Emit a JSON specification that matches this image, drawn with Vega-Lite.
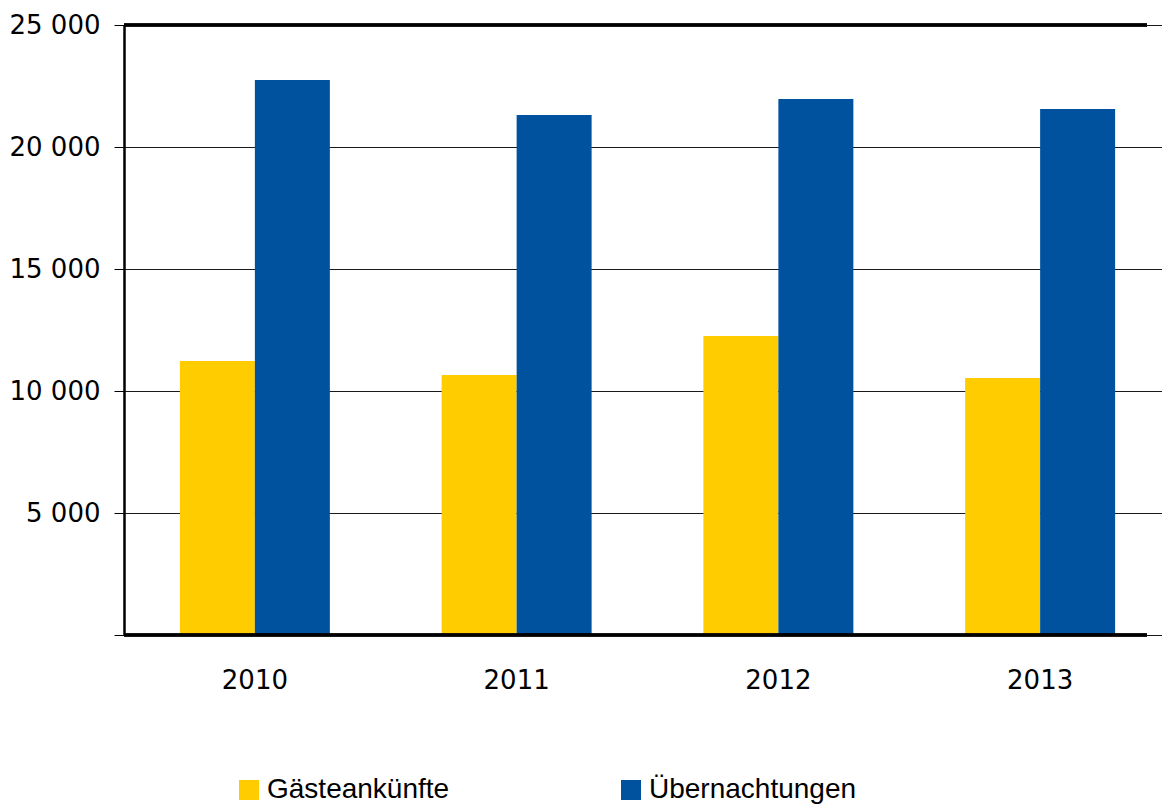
{
  "$schema": "https://vega.github.io/schema/vega-lite/v6.json",
  "autosize": "none",
  "width": 1023,
  "height": 610,
  "padding": {"left": 124, "top": 25, "right": 15, "bottom": 172},
  "background": "white",
  "config": {
    "view": {"stroke": null},
    "font": "DejaVu Sans",
    "axis": {"labelColor": "#000", "labelFont": "DejaVu Sans", "labelFontSize": 26, "titleFontSize": 0}
  },
  "data": {
    "values": [
      {"Jahr": "2010", "Merkmal": "Gästeankünfte", "Wert": 11230},
      {"Jahr": "2010", "Merkmal": "Übernachtungen", "Wert": 22750},
      {"Jahr": "2011", "Merkmal": "Gästeankünfte", "Wert": 10660},
      {"Jahr": "2011", "Merkmal": "Übernachtungen", "Wert": 21310},
      {"Jahr": "2012", "Merkmal": "Gästeankünfte", "Wert": 12250},
      {"Jahr": "2012", "Merkmal": "Übernachtungen", "Wert": 21970},
      {"Jahr": "2013", "Merkmal": "Gästeankünfte", "Wert": 10530},
      {"Jahr": "2013", "Merkmal": "Übernachtungen", "Wert": 21560}
    ]
  },
  "layer": [
    {
      "mark": {"type": "bar"},
      "encoding": {
        "x": {
          "field": "Jahr", "type": "nominal", "title": null,
          "scale": {"range": [0, 1047], "paddingInner": 0.427, "paddingOuter": 0.2135},
          "axis": {"domain": false, "ticks": false, "tickSize": 0, "labelPadding": 32, "labelAngle": 0, "grid": false}
        },
        "xOffset": {"field": "Merkmal", "type": "nominal", "scale": {"paddingInner": 0, "paddingOuter": 0}},
        "y": {
          "field": "Wert", "type": "quantitative", "title": null,
          "scale": {"domain": [0, 25000], "nice": false},
          "axis": {
            "values": [0, 5000, 10000, 15000, 20000, 25000],
            "labelExpr": "datum.value == 0 ? '' : replace(format(datum.value, ','), ',', ' ')",
            "domain": true, "domainColor": "#000", "domainWidth": 2.5,
            "ticks": true, "tickColor": "#000", "tickSize": 10, "tickWidth": 1,
            "labelPadding": 14,
            "grid": true, "gridColor": "#1a1a1a", "gridWidth": 1, "gridOpacity": 1
          }
        },
        "color": {
          "field": "Merkmal", "type": "nominal", "title": null,
          "scale": {"domain": ["Gästeankünfte", "Übernachtungen"], "range": ["#FFCC00", "#00529F"]},
          "legend": {
            "orient": "none",
            "direction": "horizontal",
            "legendX": 105,
            "legendY": 745,
            "symbolType": "M-0.5,-0.5H0.5V0.5H-0.5Z",
            "symbolSize": 1600,
            "symbolStrokeWidth": 0,
            "symbolOpacity": 1,
            "labelFont": "Liberation Sans",
            "labelFontSize": 28,
            "labelColor": "#000",
            "labelOffset": -2,
            "columnPadding": 161,
            "labelLimit": 400
          }
        }
      }
    },
    {
      "mark": {"type": "rule", "color": "#000", "strokeWidth": 2.5},
      "encoding": {"y": {"datum": 0}}
    },
    {
      "mark": {"type": "rule", "color": "#000", "strokeWidth": 2.5},
      "encoding": {"y": {"datum": 25000}}
    }
  ]
}
